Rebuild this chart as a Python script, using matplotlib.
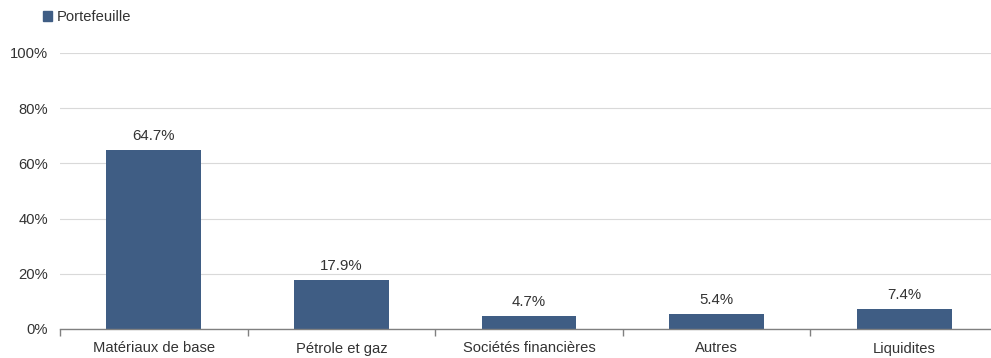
import matplotlib.pyplot as plt
from matplotlib.patches import Patch

# allocation par secteur
categories = ["Matériaux de base", "Pétrole et gaz", "Sociétés financières", "Autres", "Liquidites"]
portefeuille = [64.7, 17.9, 4.7, 5.4, 7.4]
yticks = [0, 20, 40, 60, 80, 100]

bar_colour = "#3f5d84"
text_colour = "#333333"

plt.rcParams["font.family"] = ["Liberation Sans", "DejaVu Sans"]

fig = plt.figure(figsize=(9.91, 3.58), dpi=100)
ax = fig.add_axes([60 / 991, 29 / 358, 938 / 991, 276 / 358])

x = list(range(len(categories)))
bars = ax.bar(x, portefeuille, width=0.505, color=bar_colour, zorder=3)

# valeurs au-dessus des barres
for rect, val in zip(bars, portefeuille):
    ax.annotate(f"{val}%", (rect.get_x() + rect.get_width() / 2, val),
                xytext=(0, 5), textcoords="offset points",
                ha="center", va="bottom", fontsize=10.8, color=text_colour)

ax.set_xlim(-0.5, len(categories) - 0.5)
ax.set_ylim(0, 100)
ax.set_yticks(yticks)
ax.set_yticklabels([f"{t}%" for t in yticks], fontsize=10.6, color=text_colour)
ax.set_xticks(x)
ax.set_xticklabels(categories, fontsize=10.6, color=text_colour)
ax.tick_params(axis="x", length=0, pad=9)
ax.tick_params(axis="y", length=0, pad=8.5)

# petits traits entre les catégories
ax.set_xticks([i - 0.5 for i in range(len(categories) + 1)], minor=True)
ax.tick_params(axis="x", which="minor", length=5, color="#808080", width=1)

ax.grid(axis="y", color="#d9d9d9", linewidth=0.8, zorder=0)
for side in ["top", "right", "left"]:
    ax.spines[side].set_visible(False)
ax.spines["bottom"].set_color("#808080")
ax.spines["bottom"].set_linewidth(1)
ax.spines["bottom"].set_zorder(4)

fig.legend(handles=[Patch(color=bar_colour, label="Portefeuille")],
           loc="upper left", bbox_to_anchor=(37 / 991, 1 - 4 / 358), frameon=False,
           fontsize=10.6, handlelength=0.65, handleheight=0.65, handletextpad=0.3,
           labelcolor=text_colour, borderaxespad=0)

fig.savefig("out.png", dpi=100)
